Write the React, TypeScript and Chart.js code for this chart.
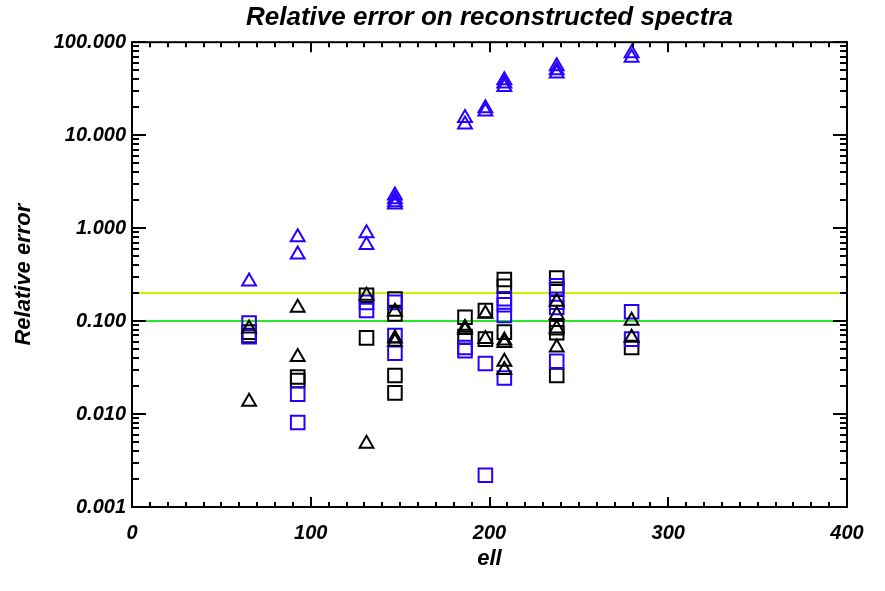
import React, { useEffect, useRef } from "react";
import { Chart, registerables } from "chart.js";

Chart.register(...registerables);

// ---- data ----
const blueTriEll = [65.5, 92.7, 92.7, 131.2, 131.2, 147.1, 147.1, 147.1, 147.1, 186.3, 186.3, 197.7, 197.7, 208.3, 208.3, 208.3, 237.6, 237.6, 237.6, 279.5, 279.5];
const blueTriVal = [0.267, 0.8, 0.52, 0.88, 0.66, 2.25, 2.05, 1.9, 1.8, 15.3, 13.0, 19.5, 18.0, 39, 36, 33, 55, 50, 46, 76, 68];

const blackTriEll = [65.5, 65.5, 92.7, 92.7, 131.2, 131.2, 147.1, 147.1, 147.1, 186.3, 186.3, 197.7, 197.7, 208.3, 208.3, 208.3, 208.3, 237.6, 237.6, 237.6, 237.6, 279.5, 279.5];
const blackTriVal = [0.083, 0.0136, 0.139, 0.041, 0.187, 0.0048, 0.126, 0.065, 0.06, 0.085, 0.08, 0.12, 0.064, 0.062, 0.058, 0.0365, 0.0297, 0.161, 0.116, 0.083, 0.052, 0.101, 0.066];

const blueSqEll = [65.5, 65.5, 92.7, 92.7, 131.2, 131.2, 147.1, 147.1, 147.1, 186.3, 186.3, 197.7, 197.7, 208.3, 208.3, 208.3, 208.3, 237.6, 237.6, 237.6, 237.6, 279.5, 279.5];
const blueSqVal = [0.095, 0.068, 0.0163, 0.0081, 0.159, 0.13, 0.159, 0.07, 0.045, 0.052, 0.048, 0.035, 0.0022, 0.174, 0.15, 0.115, 0.0244, 0.24, 0.16, 0.14, 0.037, 0.126, 0.064];

const blackSqEll = [65.5, 65.5, 92.7, 92.7, 131.2, 131.2, 147.1, 147.1, 147.1, 147.1, 186.3, 186.3, 197.7, 197.7, 208.3, 208.3, 208.3, 237.6, 237.6, 237.6, 237.6, 237.6, 279.5];
const blackSqVal = [0.07, 0.076, 0.025, 0.023, 0.19, 0.066, 0.173, 0.119, 0.026, 0.0169, 0.11, 0.068, 0.13, 0.064, 0.28, 0.237, 0.076, 0.29, 0.22, 0.085, 0.075, 0.026, 0.052];

const thresholdHigh = 0.2;
const thresholdLow = 0.1;

const xTickValues = [0, 100, 200, 300, 400];
const yTickValues = [0.001, 0.01, 0.1, 1, 10, 100];

const TITLE = "Relative error on reconstructed spectra";
const X_TITLE = "ell";
const Y_TITLE = "Relative error";

const BLUE = "rgb(40,0,255)";
const BLACK = "#000000";
const YELLOW = "rgb(205,245,0)";
const GREEN = "rgb(40,230,40)";
const FONT = "'Liberation Sans', Arial, Helvetica, sans-serif";

const pts = (xs: number[], ys: number[]) => xs.map((x, i) => ({ x, y: ys[i] }));

const frameTicks = {
  id: "frameTicks",
  afterDraw(chart: any) {
    const { ctx, chartArea, scales } = chart;
    const { left, right, top, bottom } = chartArea;
    const xs = scales.x;
    const ys = scales.y;
    ctx.save();
    ctx.strokeStyle = "#000";
    ctx.lineWidth = 2;
    ctx.strokeRect(left, top, right - left, bottom - top);
    ctx.beginPath();
    const x0 = xTickValues[0];
    const x1 = xTickValues[xTickValues.length - 1];
    for (let v = x0; v <= x1; v += 10) {
      const px = Math.round(xs.getPixelForValue(v));
      const len = v % 100 === 0 ? 10 : 5;
      ctx.moveTo(px, bottom);
      ctx.lineTo(px, bottom - len);
      ctx.moveTo(px, top);
      ctx.lineTo(px, top + len);
    }
    for (let d = 0; d < yTickValues.length; d++) {
      for (let m = 1; m <= 9; m++) {
        const v = yTickValues[d] * m;
        if (v > yTickValues[yTickValues.length - 1] * 1.0001) break;
        const py = Math.round(ys.getPixelForValue(v));
        const len = m === 1 ? 14 : 7;
        ctx.moveTo(left, py);
        ctx.lineTo(left + len, py);
        ctx.moveTo(right, py);
        ctx.lineTo(right - len, py);
      }
    }
    ctx.stroke();
    ctx.restore();
  },
};

export default function App() {
  const ref = useRef<HTMLCanvasElement | null>(null);

  useEffect(() => {
    if (!ref.current) return;
    const tri = { pointStyle: "triangle", pointRadius: 8, pointBorderWidth: 2, pointBackgroundColor: "rgba(0,0,0,0)", showLine: false };
    const sq = { pointStyle: "rect", pointRadius: 9.6, pointBorderWidth: 2, pointBackgroundColor: "rgba(0,0,0,0)", showLine: false };
    const chart = new Chart(ref.current, {
      type: "scatter",
      data: {
        datasets: [
          { label: "hi", data: [{ x: xTickValues[0], y: thresholdHigh }, { x: xTickValues[4], y: thresholdHigh }], showLine: true, borderColor: YELLOW, borderWidth: 2, pointRadius: 0, order: 10 },
          { label: "lo", data: [{ x: xTickValues[0], y: thresholdLow }, { x: xTickValues[4], y: thresholdLow }], showLine: true, borderColor: GREEN, borderWidth: 2, pointRadius: 0, order: 10 },
          { label: "blackSq", data: pts(blackSqEll, blackSqVal), borderColor: BLACK, pointBorderColor: BLACK, ...sq, order: 4 } as any,
          { label: "blueSq", data: pts(blueSqEll, blueSqVal), borderColor: BLUE, pointBorderColor: BLUE, ...sq, order: 3 } as any,
          { label: "blackTri", data: pts(blackTriEll, blackTriVal), borderColor: BLACK, pointBorderColor: BLACK, ...tri, order: 2 } as any,
          { label: "blueTri", data: pts(blueTriEll, blueTriVal), borderColor: BLUE, pointBorderColor: BLUE, ...tri, order: 1 } as any,
        ],
      },
      options: {
        responsive: false,
        animation: false,
        devicePixelRatio: 1,
        layout: { padding: { top: 0, left: 0, right: 38, bottom: 0 } },
        plugins: {
          legend: { display: false },
          tooltip: { enabled: false },
          title: {
            display: true,
            fullSize: false,
            text: TITLE,
            color: "#000",
            font: { family: FONT, size: 26, weight: "bold", style: "italic", lineHeight: 1.2 },
            padding: { top: 2, bottom: 9 },
          },
        },
        scales: {
          x: {
            type: "linear",
            min: xTickValues[0],
            max: xTickValues[xTickValues.length - 1],
            grid: { display: false, drawTicks: false },
            border: { display: false },
            afterBuildTicks: (s: any) => { s.ticks = xTickValues.map((v) => ({ value: v })); },
            afterFit: (s: any) => { s.height = 84; },
            ticks: {
              color: "#000",
              padding: 14,
              autoSkip: false,
              maxRotation: 0,
              font: { family: FONT, size: 20, weight: "bold", style: "italic" },
              callback: (v: any) => String(v),
            },
            title: {
              display: true,
              text: X_TITLE,
              color: "#000",
              font: { family: FONT, size: 22, weight: "bold", style: "italic", lineHeight: 1.2 },
              padding: { top: 0, bottom: 19 },
            },
          },
          y: {
            type: "logarithmic",
            min: yTickValues[0],
            max: yTickValues[yTickValues.length - 1],
            grid: { display: false, drawTicks: false },
            border: { display: false },
            afterBuildTicks: (s: any) => { s.ticks = yTickValues.map((v) => ({ value: v })); },
            afterFit: (s: any) => { s.width = 132; },
            ticks: {
              color: "#000",
              padding: 6,
              autoSkip: false,
              font: { family: FONT, size: 20, weight: "bold", style: "italic" },
              callback: (v: any) => Number(v).toFixed(3),
            },
            title: {
              display: true,
              text: Y_TITLE,
              color: "#000",
              font: { family: FONT, size: 22, weight: "bold", style: "italic", lineHeight: 1.2 },
              padding: { top: 11, bottom: 0 },
            },
          },
        },
      } as any,
      plugins: [frameTicks],
    });
    return () => chart.destroy();
  }, []);

  return (
    <div style={{ position: "fixed", left: 0, top: 0, width: 885, height: 591, background: "#fff" }}>
      <canvas ref={ref} width={885} height={591} style={{ width: 885, height: 591, display: "block" }} />
    </div>
  );
}
